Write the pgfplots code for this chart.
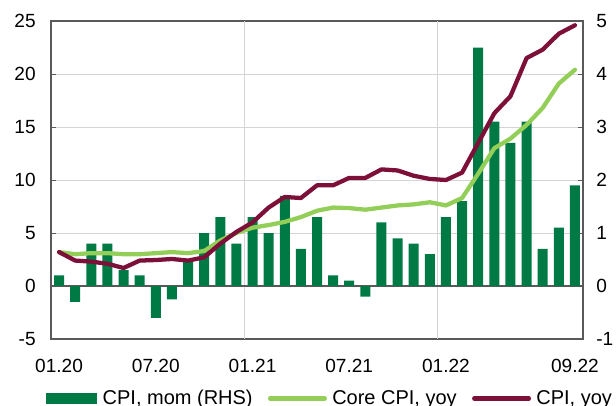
\documentclass[border=0pt]{standalone}
\usepackage{fontspec}
\setmainfont{Liberation Sans}
\usepackage{pgfplots}
\pgfplotsset{compat=1.18}
\usepackage{pgfplotstable}
\definecolor{barg}{RGB}{0,122,69}
\definecolor{coreg}{RGB}{146,206,88}
\definecolor{cpir}{RGB}{124,16,56}
\definecolor{axgray}{RGB}{89,89,89}
\definecolor{gridg}{RGB}{212,212,212}

\pgfplotstableread{
i mom core cpi
0 0.2 3.2 3.2
1 -0.3 3.0 2.4
2 0.8 3.1 2.3
3 0.8 3.1 2.1
4 0.3 3.0 1.7
5 0.2 3.0 2.4
6 -0.6 3.1 2.45
7 -0.25 3.2 2.55
8 0.45 3.1 2.4
9 1.0 3.3 2.7
10 1.3 4.3 4.0
11 0.8 5.0 5.1
12 1.3 5.5 6.0
13 1.0 5.75 7.4
14 1.7 6.05 8.4
15 0.7 6.5 8.3
16 1.3 7.1 9.5
17 0.2 7.4 9.5
18 0.1 7.35 10.2
19 -0.2 7.2 10.2
20 1.2 7.4 11.0
21 0.9 7.6 10.9
22 0.8 7.7 10.4
23 0.6 7.9 10.1
24 1.3 7.6 10.0
25 1.6 8.3 10.7
26 4.5 10.6 13.5
27 3.1 13.0 16.3
28 2.7 13.9 17.9
29 3.1 15.2 21.5
30 0.7 16.8 22.3
31 1.1 19.1 23.8
32 1.9 20.4 24.6
}\data

\begin{document}
\begin{tikzpicture}
\useasboundingbox (0,0) rectangle (462pt,303.75pt);
\begin{axis}[
  at={(38.25pt,49.5pt)}, anchor=south west,
  scale only axis, width=399pt, height=238.5pt,
  xmin=-0.5, xmax=32.5, ymin=-5, ymax=25,
  ytick={-5,0,5,10,15,20,25}, yticklabels={-5,0,5,10,15,20,25},
  xtick={0,6,12,18,24,32},
  xticklabels={01.20,07.20,01.21,07.21,01.22,09.22},
  x tick style={draw=none},
  extra x ticks={11.5,23.5}, extra x tick labels={},
  extra x tick style={grid=major, major grid style={gridg, line width=0.75pt}, tick style={draw=none}},
  ymajorgrids, major grid style={gridg, line width=0.75pt},
  extra y ticks={0}, extra y tick labels={},
  extra y tick style={major grid style={axgray, line width=1.5pt}, tick style={draw=none}},
  axis line style={axgray, line width=1.5pt},
  y tick style={axgray, line width=0.75pt}, major tick length=3.5pt, tick align=inside,
  ytick pos=both,
  yticklabel pos=left,
  ticklabel style={font=\fontsize{14.3}{16}\selectfont, black},
  yticklabel style={xshift=-8pt},
  xticklabel style={yshift=-11.5pt},
  legend columns=3,
  legend style={draw=none, fill=none, at={(axis description cs:0.525,-0.187)}, anchor=center,
    font=\fontsize{15}{18}\selectfont, inner sep=0pt,
    /tikz/every odd column/.append style={column sep=2pt},
    /tikz/every even column/.append style={column sep=9.5pt}},
]
\addplot[ybar, bar width=0.62, fill=barg, draw=none,
  legend image code/.code={\fill[barg] (0pt,-3.8pt) rectangle (38.5pt,3.8pt);}]
  table[x=i, y expr=\thisrow{mom}*5] {\data};
\addlegendentry{CPI, mom (RHS)}
\addplot[coreg, line width=3.2pt, line join=round, line cap=round,
  legend image code/.code={\draw[coreg, line width=3.2pt, line cap=round] (0pt,0pt) -- (41pt,0pt);}]
  table[x=i, y=core] {\data};
\addlegendentry{Core CPI, yoy}
\addplot[cpir, line width=3.2pt, line join=round, line cap=round,
  legend image code/.code={\draw[cpir, line width=3.2pt, line cap=round] (0pt,0pt) -- (41pt,0pt);}]
  table[x=i, y=cpi] {\data};
\addlegendentry{CPI, yoy}
\end{axis}
\begin{axis}[
  at={(38.25pt,49.5pt)}, anchor=south west,
  scale only axis, width=399pt, height=238.5pt,
  xmin=-0.5, xmax=32.5, ymin=-1, ymax=5,
  axis x line=none, axis y line*=right,
  axis line style={axgray, line width=1.5pt},
  ytick={-1,0,1,2,3,4,5}, yticklabels={-1,0,1,2,3,4,5},
  y tick style={draw=none},
  ticklabel style={font=\fontsize{14.3}{16}\selectfont, black},
  yticklabel style={xshift=6.5pt},
]
\end{axis}
\end{tikzpicture}
\end{document}
